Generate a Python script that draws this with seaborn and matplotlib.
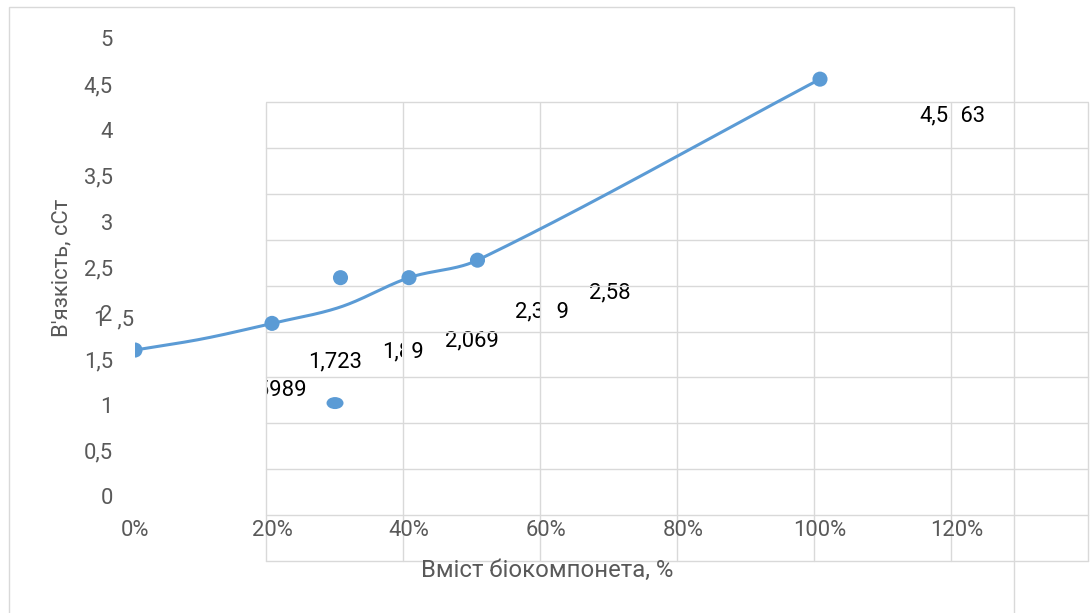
import numpy as np
import pandas as pd
import matplotlib
matplotlib.use("Agg")
import matplotlib.pyplot as plt
import matplotlib.transforms as mtransforms
import seaborn as sns
from matplotlib.patches import Ellipse, Rectangle

# ---- data -------------------------------------------------------------
content = [0.0, 0.1, 0.2, 0.3, 0.4, 0.5, 1.0]
viscosity = [1.5989, 1.723, 1.89, 2.069, 2.389, 2.58, 4.5563]
value_labels = ["1,5989", "1,723", "1,89", "2,069", "2,389", "2,58", "4,5563"]

marker_content = [0.0, 0.2, 0.3, 0.4, 0.5, 1.0]
marker_viscosity = [1.5989, 1.89, 2.389, 2.389, 2.58, 4.5563]

stray_content = [0.292]
stray_viscosity = [1.02]

x_ticks = [0.0, 0.2, 0.4, 0.6, 0.8, 1.0, 1.2]
x_tick_labels = ["0%", "20%", "40%", "60%", "80%", "100%", "120%"]
y_ticks = [0.0, 0.5, 1.0, 1.5, 2.0, 2.5, 3.0, 3.5, 4.0, 4.5, 5.0]
y_tick_labels = ["0", "0,5", "1", "1,5", "2", "2,5", "3", "3,5", "4", "4,5", "5"]

x_title = "Вміст біокомпонета, %"
y_title = "В'язкість, сСт"

# label placement (pixels: right, up) relative to each point on the gridded panel
label_offsets = [(8, 24), (1.5, 41), (0, 35.5), (1, 30.5), (2.5, 30), (2, 31), (1.5, 27)]
# white halo extent (pixels left, right) around each vertical gridline
halo_extent = [(0, 1), (1, 9), (0, 17), (1, 11), (1, 11), (1, 11), (1, 11)]

# ---- style ------------------------------------------------------------
sns.set_theme(style="white")
plt.rcParams["font.family"] = ["Roboto", "DejaVu Sans"]

BLUE = "#5b9bd5"
GRID = "#d9d9d9"
TEXT = "#595959"
FS = 15.8

W, H, DPI = 1090, 613, 100
fig = plt.figure(figsize=(W / DPI, H / DPI), dpi=DPI, facecolor="white")


def frac(left, top, right, bottom):
    return [left / W, 1 - bottom / H, (right - left) / W, (bottom - top) / H]


XLIM = (0, 1.2)
YLIM = (0, 5)

# gridded panel (drawn first)
gax = fig.add_axes(frac(265.5, 102.5, 1087.5, 560.5))
gax.set_xlim(*XLIM)
gax.set_ylim(*YLIM)
gax.set_facecolor("white")
for s in gax.spines.values():
    s.set_visible(False)
gax.set_xticks([])
gax.set_yticks([])

# main axes carrying the scales and the series
ax = fig.add_axes(frac(135, 38.5, 957, 496.5))
ax.set_xlim(*XLIM)
ax.set_ylim(*YLIM)
ax.set_facecolor("none")
for s in ax.spines.values():
    s.set_visible(False)

# value labels on the gridded panel, clipped to it
for xv, yv, lab, (dx, dy) in zip(content, viscosity, value_labels, label_offsets):
    gax.annotate(lab, xy=(xv, yv), xycoords="data", xytext=(dx, dy),
                 textcoords="offset pixels", ha="center", va="center",
                 fontsize=FS, color="black", clip_on=True, zorder=1)

# gridlines: white halo under thin grey lines
for xv, (left, right) in zip(x_ticks, halo_extent):
    shift = mtransforms.ScaledTranslation((right - left) / 2 / DPI, 0,
                                          fig.dpi_scale_trans)
    gax.plot([xv, xv], [0, 1], color="white", lw=(left + right) * 72 / DPI,
             solid_capstyle="butt", zorder=1.5,
             transform=gax.get_xaxis_transform() + shift)
for xv in x_ticks:
    gax.axvline(xv, color=GRID, lw=1.0, zorder=2, clip_on=False)
for yv in y_ticks:
    gax.axhline(yv, color=GRID, lw=1.0, zorder=2, clip_on=False)

# smoothed line: cubic Bezier through the points, tangents in screen proportions
sx = (957 - 135) / (XLIM[1] - XLIM[0])
sy = (496.5 - 38.5) / (YLIM[1] - YLIM[0])
P = np.column_stack([np.array(content) * sx, np.array(viscosity) * sy])
n = len(P)
tang = []
for i in range(n):
    d = P[min(i + 1, n - 1)] - P[max(i - 1, 0)]
    tang.append(d / np.hypot(*d))
segs = []
t = np.linspace(0, 1, 60)[:, None]
for i in range(n - 1):
    p0, p3 = P[i], P[i + 1]
    L = np.hypot(*(p3 - p0)) / 3
    c1 = p0 + tang[i] * L
    c2 = p3 - tang[i + 1] * L
    b = (1 - t) ** 3 * p0 + 3 * (1 - t) ** 2 * t * c1 + 3 * (1 - t) * t ** 2 * c2 + t ** 3 * p3
    segs.append(b if i == 0 else b[1:])
curve = np.vstack(segs)
curve_df = pd.DataFrame({"x": curve[:, 0] / sx, "y": curve[:, 1] / sy})

sns.lineplot(data=curve_df, x="x", y="y", sort=False, estimator=None,
             color=BLUE, lw=2.2, ax=ax, zorder=3)
sns.scatterplot(x=marker_content, y=marker_viscosity, s=118, color=BLUE,
                edgecolor="none", linewidth=0, ax=ax, zorder=4)
for xv, yv in zip(stray_content, stray_viscosity):
    ax.add_patch(Ellipse((xv, yv), width=17 / sx, height=12 / sy,
                         facecolor=BLUE, edgecolor="none", zorder=4))

ax.set_xlabel("")
ax.set_ylabel("")
ax.set_xticks(x_ticks)
ax.set_xticklabels(x_tick_labels)
ax.set_yticks(y_ticks)
ax.set_yticklabels(y_tick_labels)
ax.tick_params(axis="x", length=0, pad=17, labelsize=FS, labelcolor=TEXT)
ax.tick_params(axis="y", length=0, pad=16, labelsize=FS, labelcolor=TEXT)

# axis titles
fig.text(547 / W, 1 - 570 / H, x_title, ha="center", va="center",
         fontsize=17.2, color=TEXT)
fig.text(62 / W, 1 - 268 / H, y_title, ha="center", va="center",
         rotation=90, fontsize=FS, color=TEXT)
fig.text(94 / W, 1 - 320 / H, "1  ,5", ha="left", va="center",
         fontsize=FS, color=TEXT, zorder=-1)

# outer chart frame
fig.add_artist(Rectangle((9 / W, -0.05), (1014 - 9) / W, (H - 7) / H + 0.05,
                         transform=fig.transFigure, fill=False,
                         edgecolor=GRID, lw=1.0))

fig.savefig("out.png", dpi=DPI, facecolor="white")
